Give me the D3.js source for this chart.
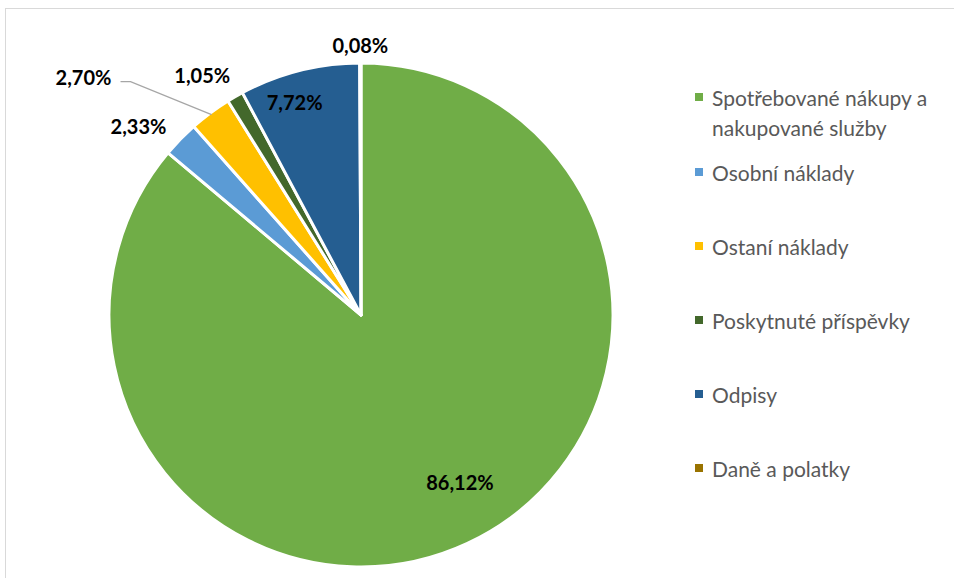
<!DOCTYPE html>
<html>
<head>
<meta charset="utf-8">
<script src="https://cdn.jsdelivr.net/npm/d3@7"></script>
<style>
  body { margin: 0; background: #fff; }
</style>
</head>
<body>
<div id="chart"></div>
<script>
// Pie of cost structure, Excel-like look

const categories = [
  "Spotřebované nákupy a nakupované služby",
  "Osobní náklady",
  "Ostaní náklady",
  "Poskytnuté příspěvky",
  "Odpisy",
  "Daně a polatky"
];
const values = [86.12, 2.33, 2.70, 1.05, 7.72, 0.08];
const valueLabels = ["86,12%", "2,33%", "2,70%", "1,05%", "7,72%", "0,08%"];
const colours = ["#70AD47", "#5B9BD5", "#FFC000", "#43682B", "#255E91", "#997300"];

const width = 954;
const height = 578;
const font = "Lato, 'Open Sans', sans-serif";

const svg = d3
  .select("#chart")
  .append("svg")
  .attr("width", width)
  .attr("height", height);

// chart area frame (runs off the right and bottom edge)
svg
  .append("rect")
  .attr("x", 5.5)
  .attr("y", 8.5)
  .attr("width", width + 20)
  .attr("height", height + 20)
  .attr("fill", "white")
  .attr("stroke", "#d9d9d9")
  .attr("stroke-width", 1);

const cx = 361;
const cy = 315;
const radius = 252;

const pie = d3.pie().sort(null).value((d) => d);
const arcs = pie(values);

const arc = d3.arc().innerRadius(0).outerRadius(radius);

const pieG = svg.append("g").attr("transform", `translate(${cx},${cy})`);

pieG
  .selectAll("path")
  .data(arcs)
  .enter()
  .append("path")
  .attr("d", arc)
  .attr("fill", (d, i) => colours[i])
  .attr("stroke", "white")
  .attr("stroke-width", 3)
  .attr("stroke-linejoin", "round");

// label placement: radius factor + small nudges (Excel best-fit)
const labelRadius = [0.77, 1.16, 1.0, 1.15, 0.88, 1.07];
const labelNudge = [
  [17, -9],
  [-13, 15],
  [0, 0],
  [-14, 11],
  [-12, 2],
  [0, 0]
];

const labelPos = arcs.map(function (d, i) {
  const r = radius * labelRadius[i];
  const a = (d.startAngle + d.endAngle) / 2;
  return [Math.sin(a) * r + labelNudge[i][0], -Math.cos(a) * r + labelNudge[i][1]];
});

// 2,70% sits away from its slice, pushed out with a leader line
const farIdx = 2;
const farA = (arcs[farIdx].startAngle + arcs[farIdx].endAngle) / 2;
const farEdge = [Math.sin(farA) * (radius - 2), -Math.cos(farA) * (radius - 2)];
const farLabel = [farEdge[0] - 128, farEdge[1] - 38];
labelPos[farIdx] = farLabel;

pieG
  .append("polyline")
  .attr(
    "points",
    [
      [farLabel[0] + 37, farLabel[1] + 5],
      [farLabel[0] + 47, farLabel[1] + 5],
      farEdge
    ]
      .map((p) => p.join(","))
      .join(" ")
  )
  .attr("fill", "none")
  .attr("stroke", "#a6a6a6")
  .attr("stroke-width", 1.3);

pieG
  .selectAll(".value-label")
  .data(arcs)
  .enter()
  .append("text")
  .attr("class", "value-label")
  .attr("x", (d, i) => labelPos[i][0])
  .attr("y", (d, i) => labelPos[i][1])
  .attr("text-anchor", "middle")
  .attr("dominant-baseline", "central")
  .style("font-family", font)
  .style("font-weight", "bold")
  .style("font-size", "20px")
  .style("fill", "black")
  .text((d, i) => valueLabels[i]);

// legend
const legendX = 695;

const legendLines = [
  ["Spotřebované nákupy a", "nakupované služby"],
  ["Osobní náklady"],
  ["Ostaní náklady"],
  ["Poskytnuté příspěvky"],
  ["Odpisy"],
  ["Daně a polatky"]
];

const legend = svg
  .append("g")
  .selectAll("g")
  .data(categories)
  .enter()
  .append("g")
  .attr("transform", (d, i) => {
    // the first item takes two lines, others are evenly spaced below
    const y = i === 0 ? 97 : 172 + (i - 1) * ((468 - 172) / 4);
    return `translate(${legendX},${y})`;
  });

legend
  .append("rect")
  .attr("x", 0)
  .attr("y", -4)
  .attr("width", 8)
  .attr("height", 8)
  .attr("fill", (d, i) => colours[i]);

legend
  .append("text")
  .attr("x", 17)
  .attr("y", 0)
  .attr("dominant-baseline", "central")
  .style("font-family", font)
  .style("font-size", "21px")
  .style("fill", "#595959")
  .selectAll("tspan")
  .data((d, i) => legendLines[i])
  .enter()
  .append("tspan")
  .attr("x", 17)
  .attr("dy", (d, j) => (j === 0 ? 0 : 30))
  .text((d) => d);
</script>
</body>
</html>
